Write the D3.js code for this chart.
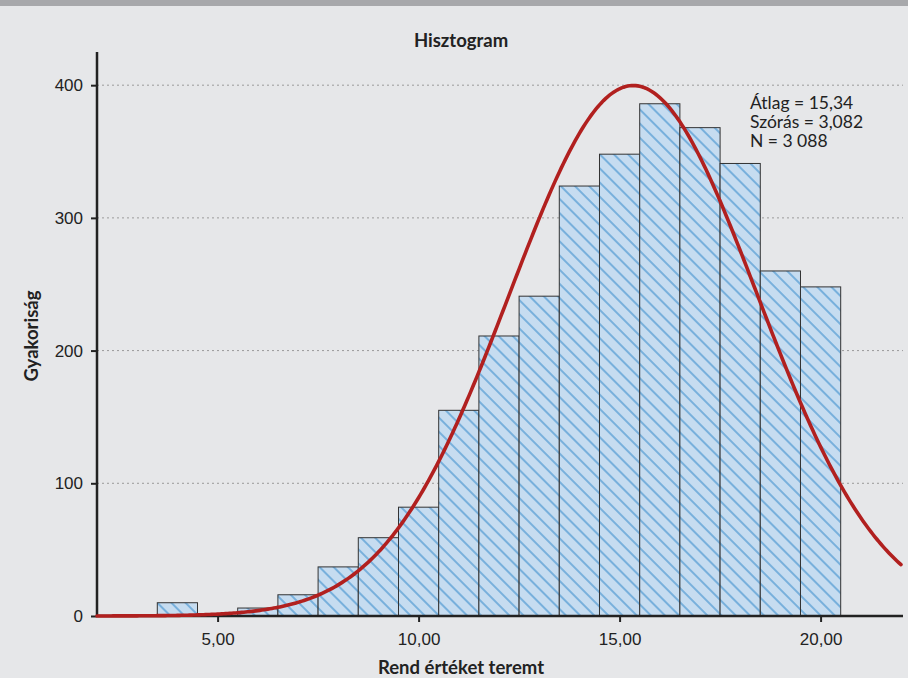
<!DOCTYPE html>
<html>
<head>
<meta charset="utf-8">
<script src="https://cdn.jsdelivr.net/npm/d3@7"></script>
<style>
  html, body { margin: 0; padding: 0; background: #e6e7e9; }
  svg { display: block; font-family: Lato, "Open Sans", sans-serif; }
</style>
</head>
<body>
<div id="chart"></div>
<script>
// bin centres (width 1) and counts
const binCentres = [4, 5, 6, 7, 8, 9, 10, 11, 12, 13, 14, 15, 16, 17, 18, 19, 20];
const counts = [10, 0, 6, 16, 37, 59, 82, 155, 211, 241, 324, 348, 386, 368, 341, 260, 248];
const yTicks = [0, 100, 200, 300, 400];
const xTicks = [5, 10, 15, 20];
// statistics printed in the chart, used for the normal curve
const stats = {mean: 15.34, sd: 3.082, n: 3088};
const statLabels = ['Átlag = 15,34', 'Szórás = 3,082', 'N = 3 088'];

const W = 908, H = 678;
const margin = {top: 52, right: 5, bottom: 62, left: 97};

const svg = d3.select('#chart').append('svg')
  .attr('width', W).attr('height', H);

svg.append('rect').attr('width', W).attr('height', H).attr('fill', '#e6e7e9');
svg.append('rect').attr('width', W).attr('height', 6).attr('fill', '#a7a8ab');

const x = d3.scaleLinear().domain([2, 22.05]).range([margin.left, W - margin.right]);
const y = d3.scaleLinear().domain([0, 425]).range([H - margin.bottom, margin.top]);

// hatch pattern
const step = 10;
const pat = svg.append('defs').append('pattern')
  .attr('id', 'hatch')
  .attr('patternUnits', 'userSpaceOnUse')
  .attr('width', step).attr('height', step)
  .attr('patternTransform', 'rotate(-45)');
pat.append('rect').attr('width', step).attr('height', step).attr('fill', '#c6dcf0');
pat.append('line')
  .attr('x1', step / 2).attr('y1', 0).attr('x2', step / 2).attr('y2', step)
  .attr('stroke', '#78b0dc').attr('stroke-width', 2);

// grid lines
svg.append('g').selectAll('line')
  .data(yTicks.filter(d => d > 0))
  .join('line')
  .attr('x1', x.range()[0]).attr('x2', x.range()[1])
  .attr('y1', d => y(d)).attr('y2', d => y(d))
  .attr('stroke', '#9a9a9a').attr('stroke-width', 1)
  .attr('stroke-dasharray', '2,3');

// bars
svg.append('g').selectAll('rect')
  .data(binCentres.map((c, i) => ({c, v: counts[i]})).filter(d => d.v > 0))
  .join('rect')
  .attr('x', d => x(d.c - 0.5))
  .attr('width', d => x(d.c + 0.5) - x(d.c - 0.5))
  .attr('y', d => y(d.v))
  .attr('height', d => y(0) - y(d.v))
  .attr('fill', 'url(#hatch)')
  .attr('stroke', '#333').attr('stroke-width', 1);

// axes
const yAxis = svg.append('g')
  .attr('transform', `translate(${margin.left},0)`)
  .call(d3.axisLeft(y).tickValues(yTicks).tickSize(6).tickPadding(8));
const xAxis = svg.append('g')
  .attr('transform', `translate(0,${y(0)})`)
  .call(d3.axisBottom(x).tickValues(xTicks).tickSize(6).tickPadding(11)
    .tickFormat(d => d3.format('.2f')(d).replace('.', ',')));
[yAxis, xAxis].forEach(g => {
  g.select('.domain').attr('stroke', '#222').attr('stroke-width', 2.5);
  g.selectAll('.tick line').attr('stroke', '#222').attr('stroke-width', 2);
  g.selectAll('.tick text').attr('fill', '#222').attr('font-size', 17);
});
yAxis.select('.domain').attr('d', `M0,${y.range()[1]}V${y(0)}`);
xAxis.select('.domain').attr('d', `M${x.range()[0]},0H${x.range()[1]}`);

// normal curve from the printed statistics
const pdf = v => stats.n / (stats.sd * Math.sqrt(2 * Math.PI)) *
  Math.exp(-0.5 * Math.pow((v - stats.mean) / stats.sd, 2));
const curveX = d3.range(2, 22.001, 0.05);
svg.append('path')
  .datum(curveX)
  .attr('fill', 'none')
  .attr('stroke', '#b1201f').attr('stroke-width', 3.6)
  .attr('stroke-linecap', 'round')
  .attr('d', d3.line().x(d => x(d)).y(d => y(pdf(d))));

// texts
svg.append('text')
  .attr('x', 461).attr('y', 47)
  .attr('text-anchor', 'middle').attr('font-size', 18.5).attr('font-weight', 'bold')
  .attr('fill', '#222').text('Hisztogram');

svg.append('text')
  .attr('transform', 'translate(38,336) rotate(-90)')
  .attr('text-anchor', 'middle').attr('font-size', 18.5).attr('font-weight', 'bold')
  .attr('fill', '#222').text('Gyakoriság');

svg.append('text')
  .attr('x', 461).attr('y', 674)
  .attr('text-anchor', 'middle').attr('font-size', 18.5).attr('font-weight', 'bold')
  .attr('fill', '#222').text('Rend értéket teremt');

svg.append('g').selectAll('text')
  .data(statLabels)
  .join('text')
  .attr('x', 750).attr('y', (d, i) => 109 + i * 19)
  .attr('font-size', 17.5).attr('fill', '#222')
  .text(d => d);
</script>
</body>
</html>
